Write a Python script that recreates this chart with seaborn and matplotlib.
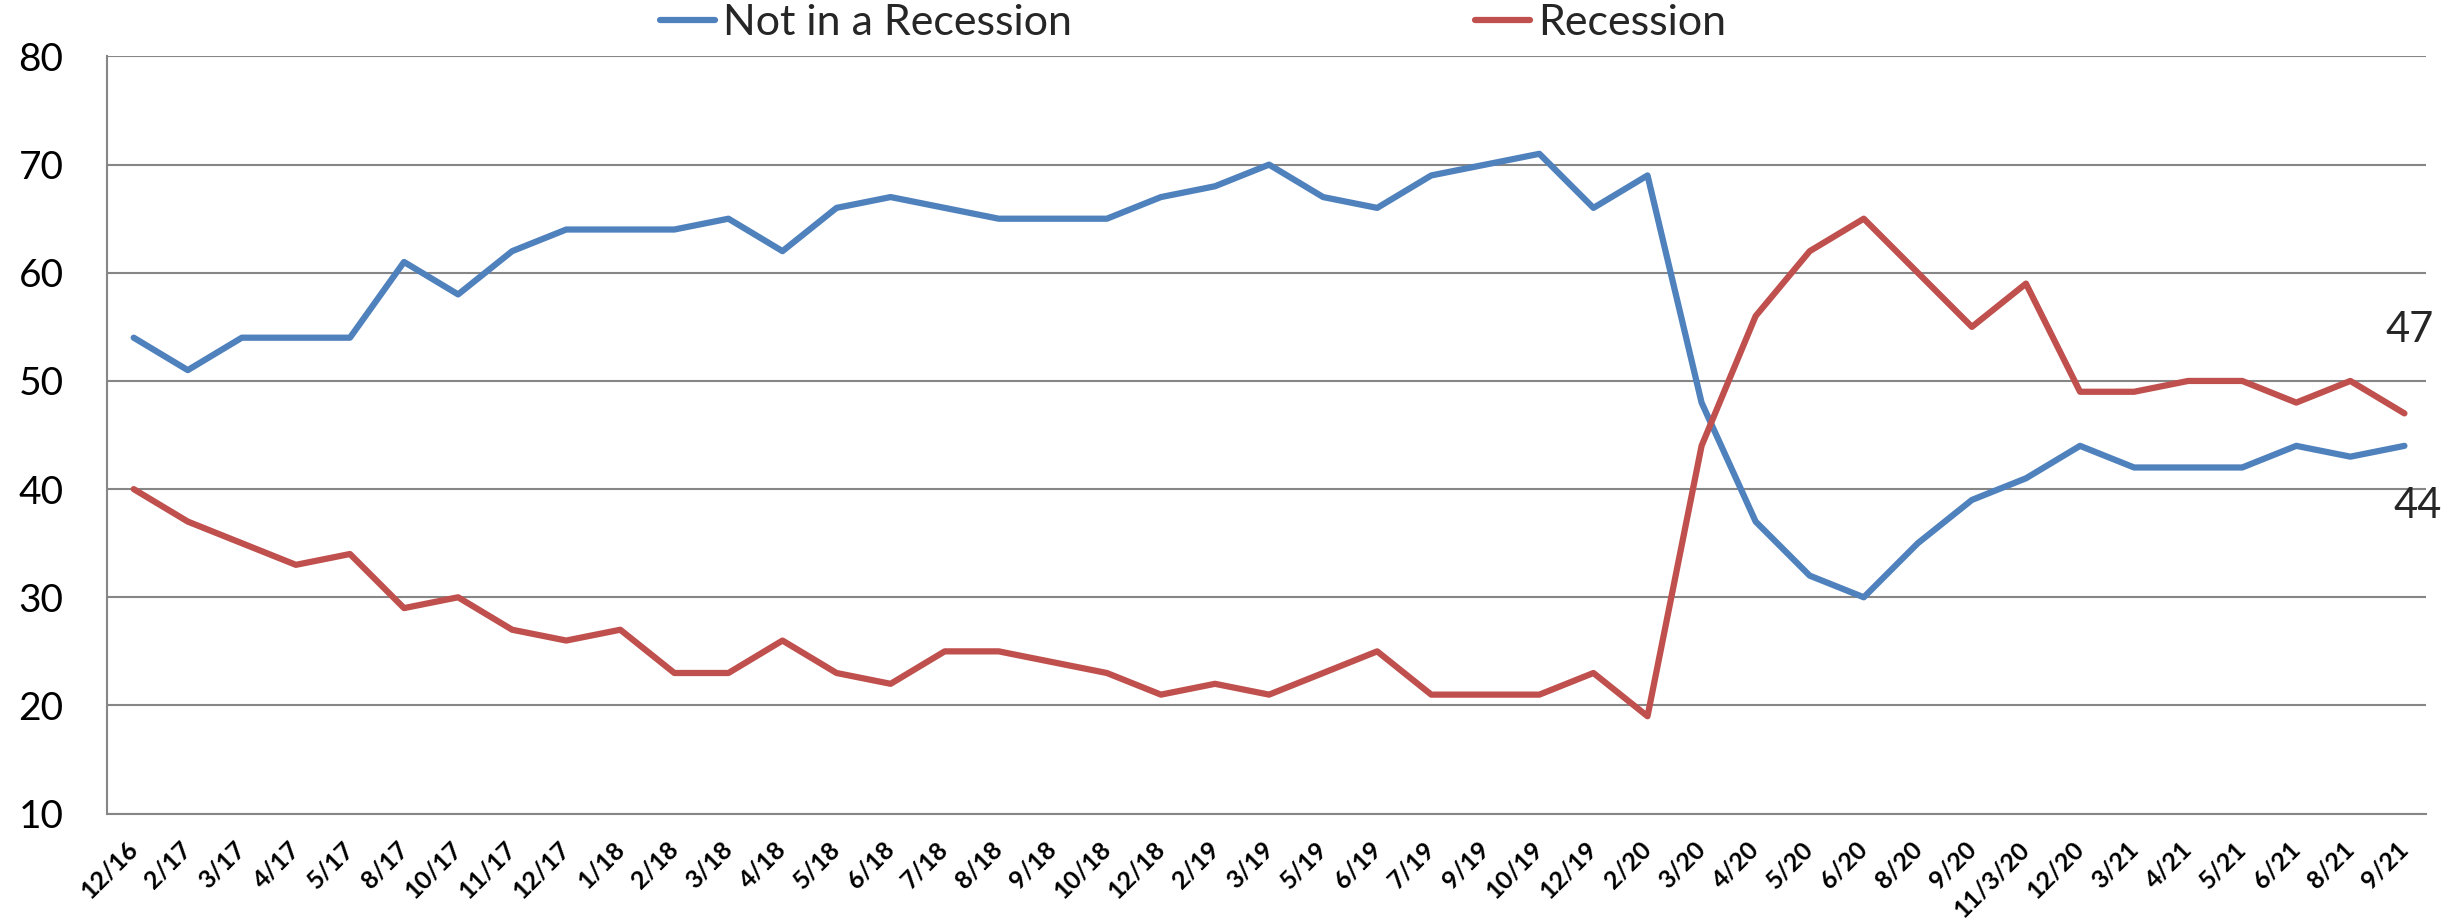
import numpy as np
import pandas as pd
import seaborn as sns
import matplotlib.pyplot as plt

# survey dates (x categories)
dates = ['12/16', '2/17', '3/17', '4/17', '5/17', '8/17', '10/17', '11/17', '12/17',
         '1/18', '2/18', '3/18', '4/18', '5/18', '6/18', '7/18', '8/18', '9/18', '10/18',
         '12/18', '2/19', '3/19', '5/19', '6/19', '7/19', '9/19', '10/19', '12/19',
         '2/20', '3/20', '4/20', '5/20', '6/20', '8/20', '9/20', '11/3/20', '12/20',
         '3/21', '4/21', '5/21', '6/21', '8/21', '9/21']

not_recession = [54, 51, 54, 54, 54, 61, 58, 62, 64, 64, 64, 65, 62, 66, 67, 66, 65, 65,
                 65, 67, 68, 70, 67, 66, 69, 70, 71, 66, 69, 48, 37, 32, 30, 35, 39, 41,
                 44, 42, 42, 42, 44, 43, 44]
recession = [40, 37, 35, 33, 34, 29, 30, 27, 26, 27, 23, 23, 26, 23, 22, 25, 25, 24, 23,
             21, 22, 21, 23, 25, 21, 21, 21, 23, 19, 44, 56, 62, 65, 60, 55, 59, 49, 49,
             50, 50, 48, 50, 47]

series_names = ['Not in a Recession', 'Recession']
colors = ['#4F81BD', '#C0504D']

df = pd.DataFrame({
    'Date': dates * 2,
    'Value': not_recession + recession,
    'Series': [series_names[0]] * len(dates) + [series_names[1]] * len(dates),
})

sns.set_theme(style='white')
plt.rcParams['font.family'] = ['Lato', 'DejaVu Sans']

fig = plt.figure(figsize=(24.58, 9.21), dpi=100)
ax = fig.add_axes([0.0434, 0.1166, 0.9436, 0.8221])

sns.lineplot(data=df, x='Date', y='Value', hue='Series', palette=colors,
             sort=False, linewidth=4.5, ax=ax, legend=True)

ax.set_ylim(10, 80)
ax.set_yticks(range(10, 81, 10))
ax.set_xlim(-0.5, len(dates) - 0.6)
ax.set_xlabel('')
ax.set_ylabel('')

grid_color = '#868686'
ax.yaxis.grid(True, color=grid_color, linewidth=1.5)
ax.xaxis.grid(False)
for side in ['top', 'right']:
    ax.spines[side].set_visible(False)
for side in ['left', 'bottom']:
    ax.spines[side].set_color(grid_color)
    ax.spines[side].set_linewidth(1.5)

ax.tick_params(axis='y', length=0, pad=31, labelsize=28, labelcolor='black')
ax.tick_params(axis='x', length=0, pad=23, labelsize=18, labelcolor='black')
for lab in ax.get_xticklabels():
    lab.set_rotation(45)
    lab.set_ha('right')
    lab.set_va('center')
    lab.set_rotation_mode('anchor')
    lab.set_fontweight('bold')

# end labels
ax.text(len(dates) - 0.9, 54.7, str(recession[-1]), fontsize=30, ha='center', va='center')
ax.text(len(dates) - 0.75, 38.45, str(not_recession[-1]), fontsize=30, ha='center', va='center')

ax.legend(loc='center', bbox_to_anchor=(0.4854, 0.975), bbox_transform=fig.transFigure,
          ncol=2, frameon=False, fontsize=31, handlelength=1.28, handletextpad=0.19,
          columnspacing=9.35, borderpad=0)

fig.savefig('out.png', dpi=100)
